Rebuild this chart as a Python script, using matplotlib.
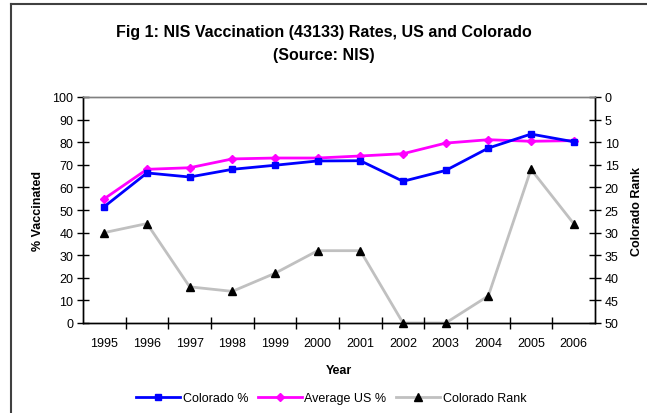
import matplotlib
matplotlib.use("Agg")
import matplotlib.pyplot as plt
from matplotlib.lines import Line2D

years = ["1995", "1996", "1997", "1998", "1999", "2000", "2001", "2002", "2003", "2004", "2005", "2006"]
colorado_pct = [51.5, 66.4, 64.6, 68.0, 69.8, 71.7, 71.8, 62.7, 67.5, 77.4, 83.6, 80.2]
us_pct = [55.0, 68.0, 68.7, 72.6, 73.0, 73.0, 73.9, 74.9, 79.6, 81.1, 80.4, 80.7]
colorado_rank = [30, 28, 42, 43, 39, 34, 34, 50, 50, 44, 16, 28]

plt.rcParams['font.family'] = ['Liberation Sans', 'DejaVu Sans']

W, H = 647, 414
fig = plt.figure(figsize=(W / 100, H / 100), dpi=100)
ax = fig.add_axes([83 / W, 1 - 324 / H, (595 - 83) / W, (324 - 98) / H])
ax2 = ax.twinx()

x = list(range(len(years)))
l1, = ax.plot(x, colorado_pct, color='#0000FF', lw=2, marker='s', ms=4.5, label='Colorado %', zorder=4)
l2, = ax.plot(x, us_pct, color='#FF00FF', lw=2, marker='D', ms=4, label='Average US %', zorder=3)
l3, = ax2.plot(x, colorado_rank, color='#C0C0C0', lw=2, marker='^', ms=5.5,
               markerfacecolor='black', markeredgecolor='black', label='Colorado Rank', clip_on=False)

ax.set_xlim(-0.5, len(years) - 0.5)
ax.set_ylim(0, 100)
ax2.set_ylim(50, 0)
ax.set_yticks(range(0, 101, 10))
ax2.set_yticks(range(0, 51, 5))
ax.set_xticks(x)
ax.set_xticklabels(years)
ax.set_xticks([i + 0.5 for i in range(len(years) - 1)], minor=True)

ax.tick_params(axis='x', which='major', length=0, labelsize=9, pad=10)
ax.tick_params(axis='x', which='minor', direction='inout', length=8, width=1)
ax.tick_params(axis='y', direction='inout', length=8, width=1, labelsize=9, pad=3)
ax2.tick_params(axis='y', direction='inout', length=8, width=1, labelsize=9, pad=3)

for a in (ax, ax2):
    a.spines['top'].set_color('#808080')
    a.spines['top'].set_linewidth(1)
    for s in ('left', 'right', 'bottom'):
        a.spines[s].set_color('black')
        a.spines[s].set_linewidth(1)
ax.set_zorder(ax2.get_zorder() + 1)
ax.patch.set_visible(False)

ax.set_xlabel('Year', fontsize=9, fontweight='bold', labelpad=11)
ax.set_ylabel('% Vaccinated', fontsize=9, fontweight='bold', labelpad=6)
ax2.set_ylabel('Colorado Rank', fontsize=9, fontweight='bold', labelpad=9)

fig.text(0.5, 1 - 33 / H, 'Fig 1: NIS Vaccination (43133) Rates, US and Colorado',
         ha='center', va='center', fontsize=11.5, fontweight='bold')
fig.text(0.5, 1 - 56 / H, '(Source: NIS)', ha='center', va='center', fontsize=11.5, fontweight='bold')

fig.legend(handles=[l1, l2, l3], loc='center', bbox_to_anchor=(0.512, 1 - 399 / H), ncol=3,
           frameon=False, fontsize=9, handlelength=3.5, columnspacing=0.8, handletextpad=0.2)

# outer frame (left and top edges)
fig.add_artist(Line2D([11 / W, 11 / W], [0, 1 - 5 / H], color='#404040', lw=1.5, transform=fig.transFigure))
fig.add_artist(Line2D([11 / W, 1], [1 - 5 / H, 1 - 5 / H], color='#404040', lw=1.5, transform=fig.transFigure))

fig.savefig('out.png', dpi=100)
